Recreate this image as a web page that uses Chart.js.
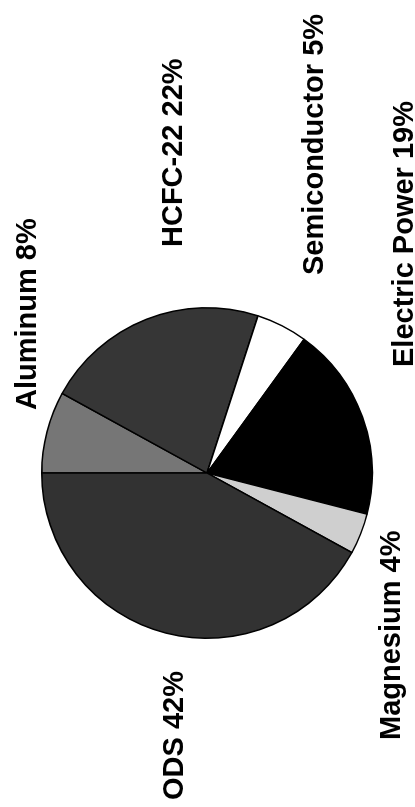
<!DOCTYPE html>
<html>
<head>
<meta charset="utf-8">
<script src="https://cdn.jsdelivr.net/npm/chart.js@4"></script>
<style>
  html, body { margin: 0; padding: 0; background: #fff; overflow: hidden; }
  body { width: 415px; height: 807px; position: relative; }
  /* The chart is laid out landscape and turned a quarter-turn counter-clockwise */
  #wrap {
    position: absolute; left: 0; top: 0;
    width: 807px; height: 415px;
    transform-origin: 0 0;
    transform: translate(0, 807px) rotate(-90deg);
  }
</style>
</head>
<body>
<div id="wrap"><canvas id="c" width="807" height="415"></canvas></div>
<script>
// Emission sources and their shares (%)
const categories = ['Aluminum', 'HCFC-22', 'Semiconductor', 'Electric Power', 'Magnesium', 'ODS'];
const shares = [8, 22, 5, 19, 4, 42];

// Slice fills
const fills = ['#767676', '#363636', '#ffffff', '#000000', '#cfcfcf', '#323232'];

// Where each caption's baseline starts (landscape frame)
const labelAnchors = [
  [397, 36],
  [560, 182],
  [532, 323],
  [440, 413],
  [67, 400],
  [7, 183]
];

const captionPlugin = {
  id: 'captions',
  afterDraw(chart) {
    const ctx = chart.ctx;
    ctx.save();
    ctx.fillStyle = '#000';
    ctx.font = 'bold 29px "Liberation Sans", Arial, sans-serif';
    ctx.textAlign = 'left';
    ctx.textBaseline = 'alphabetic';
    categories.forEach((name, i) => {
      const [x, y] = labelAnchors[i];
      ctx.fillText(name + ' ' + shares[i] + '%', x, y);
    });
    ctx.restore();
  }
};

new Chart(document.getElementById('c'), {
  type: 'pie',
  data: {
    labels: categories,
    datasets: [{
      data: shares,
      backgroundColor: fills,
      borderColor: '#000',
      borderWidth: 1.5
    }]
  },
  options: {
    responsive: false,
    animation: false,
    layout: { padding: { left: 168, right: 307, top: 41, bottom: 42 } },
    plugins: {
      legend: { display: false },
      tooltip: { enabled: false }
    }
  },
  plugins: [captionPlugin]
});
</script>
</body>
</html>
